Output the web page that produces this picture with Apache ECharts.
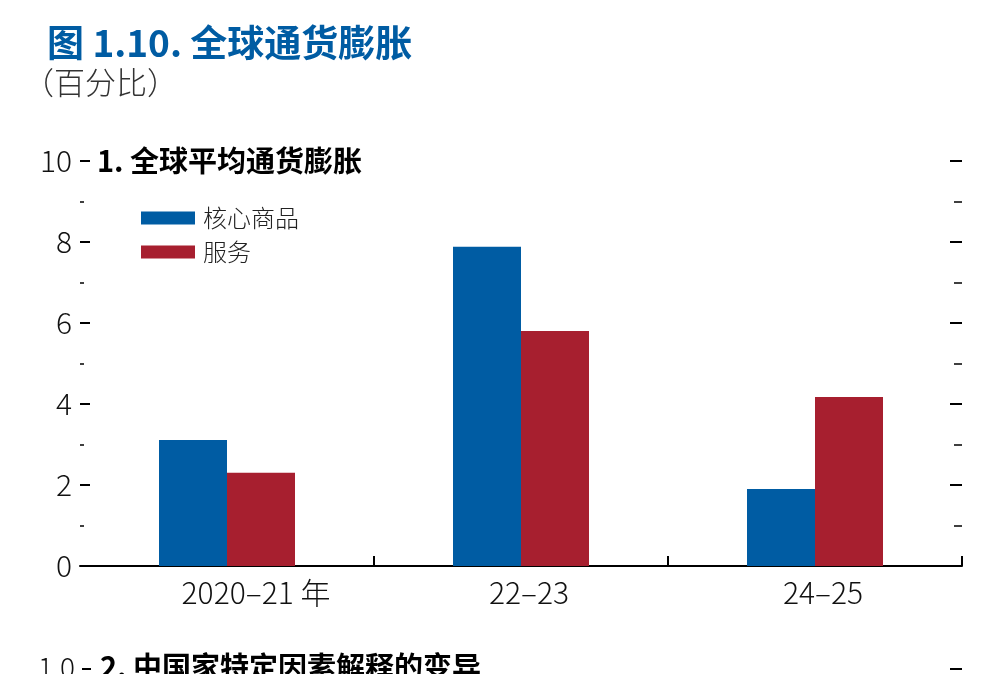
<!DOCTYPE html>
<html>
<head>
<meta charset="UTF-8">
<title>全球通货膨胀</title>
<script src="https://cdn.jsdelivr.net/npm/echarts@6/dist/echarts.min.js"></script>
<style>
html,body{margin:0;padding:0;background:#fff;}
#main{width:986px;height:674px;}
</style>
</head>
<body>
<div id="main"></div>
<script>
// 数据
var categories = ['2020–21 年', '22–23', '24–25'];
var coreGoods = [3.11, 7.88, 1.90];
var services = [2.30, 5.80, 4.17];
var seriesNames = ['核心商品', '服务'];

var FONT = '"Noto Sans CJK SC", "Noto Sans", sans-serif';
var blue = '#005ca3';
var red = '#a71f2f';

var chart = echarts.init(document.getElementById('main'));

// 第一个标签在原图里偏右一些
var catData = categories.map(function (c, i) {
    return {value: c, textStyle: {padding: [0, 0, 0, i === 0 ? 58 : 16]}};
});

var option = {
    animation: false,
    textStyle: {fontFamily: FONT},
    title: [
        {
            text: '图 1.10. 全球通货膨胀',
            left: 42, top: 19,
            textStyle: {fontFamily: FONT, fontSize: 37, fontWeight: 'bold', color: blue}
        },
        {
            text: '（百分比）',
            left: 18, top: 62,
            textStyle: {fontFamily: FONT, fontSize: 31, fontWeight: 300, color: '#333'}
        },
        {
            text: '1. 全球平均通货膨胀',
            left: 92, top: 141,
            textStyle: {fontFamily: FONT, fontSize: 29, fontWeight: 'bold', color: '#000'}
        }
    ],
    legend: {
        orient: 'vertical',
        left: 136, top: 201,
        itemWidth: 54, itemHeight: 13,
        itemGap: 10,
        icon: 'rect',
        data: seriesNames,
        textStyle: {fontFamily: FONT, fontSize: 24, fontWeight: 300, color: '#222', padding: [0, 0, 0, 3]}
    },
    grid: {left: 80, right: 24, top: 161, bottom: 108},
    xAxis: {
        type: 'category',
        data: catData,
        axisLine: {lineStyle: {color: '#000', width: 2}},
        axisTick: {
            show: true, inside: true, length: 10,
            // 两端不画刻度
            interval: function (i) { return i > 0 && i < categories.length; },
            lineStyle: {color: '#000', width: 2}
        },
        axisLabel: {fontFamily: FONT, fontSize: 30, fontWeight: 300, color: '#111', margin: 12}
    },
    yAxis: [
        {
            type: 'value', min: 0, max: 10, interval: 2,
            axisLine: {show: false},
            axisTick: {show: true, inside: true, length: 10, lineStyle: {color: '#000', width: 2}},
            minorTick: {show: true, splitNumber: 2, length: 4, lineStyle: {color: '#000', width: 1.5}},
            splitLine: {show: false},
            axisLabel: {fontFamily: FONT, fontSize: 30, fontWeight: 300, color: '#111', margin: 8}
        },
        {
            type: 'value', min: 0, max: 10, interval: 2, position: 'right',
            axisLine: {show: false},
            axisTick: {show: true, inside: true, length: 12, lineStyle: {color: '#000', width: 2}},
            minorTick: {show: true, splitNumber: 2, length: 8, lineStyle: {color: '#000', width: 1.5}},
            splitLine: {show: false},
            axisLabel: {show: false}
        }
    ],
    series: [
        {
            name: seriesNames[0], type: 'bar', data: coreGoods,
            barWidth: 68, barGap: '0%',
            itemStyle: {color: blue}
        },
        {
            name: seriesNames[1], type: 'bar', data: services,
            barWidth: 68, barGap: '0%',
            itemStyle: {color: red}
        }
    ],
    graphic: [
        {
            type: 'text', left: 38, top: 653,
            style: {text: '1.0', font: '300 28px ' + FONT, fill: '#111'}
        },
        {
            type: 'rect', shape: {x: 82, y: 668, width: 9, height: 2},
            style: {fill: '#000'}
        },
        {
            type: 'text', left: 100, top: 652,
            style: {text: '2. 中国家特定因素解释的变异', font: 'bold 29px ' + FONT, fill: '#000'}
        },
        {
            type: 'rect', shape: {x: 950, y: 668, width: 12, height: 2},
            style: {fill: '#000'}
        }
    ]
};
chart.setOption(option);
</script>
</body>
</html>
